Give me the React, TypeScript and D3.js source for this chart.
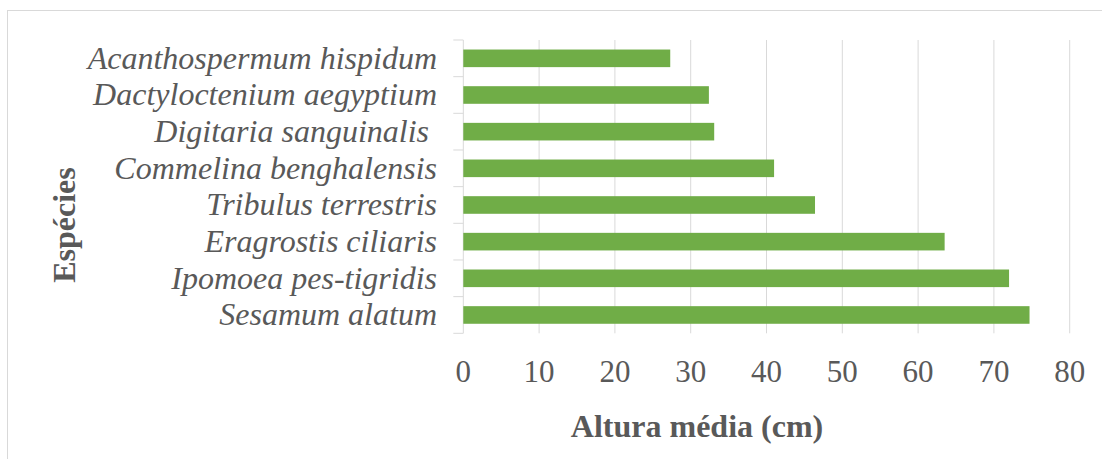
import React from "react";
import * as d3 from "d3";

// Mean plant height (cm) per weed species, listed top to bottom
const species = [
  "Acanthospermum hispidum",
  "Dactyloctenium aegyptium",
  "Digitaria sanguinalis ",
  "Commelina benghalensis",
  "Tribulus terrestris",
  "Eragrostis ciliaris",
  "Ipomoea pes-tigridis",
  "Sesamum alatum",
];
const heights = [27.3, 32.4, 33.1, 41.0, 46.4, 63.5, 72.0, 74.7];
const xTicks = [0, 10, 20, 30, 40, 50, 60, 70, 80];

const W = 1102;
const H = 459;
const plot = { left: 463.3, right: 1069.7, top: 40, bottom: 333.3 };
const FONT = "'Liberation Serif', 'Times New Roman', serif";
const TEXT = "#595959";
const GRID = "#D9D9D9";
const BAR = "#70AD47";

export default function App() {
  const x = d3.scaleLinear().domain([0, 80]).range([plot.left, plot.right]);
  const y = d3
    .scaleBand<string>()
    .domain(species)
    .range([plot.top, plot.bottom])
    .paddingInner(0.52)
    .paddingOuter(0.26);
  const step = y.step();
  const boundaries = d3.range(species.length + 1).map((i) => plot.top + i * step);

  return (
    <svg
      width={W}
      height={H}
      style={{ position: "absolute", left: 0, top: 0, background: "#fff" }}
      fontFamily={FONT}
    >
      <rect x={7.5} y={10.5} width={1120} height={480} fill="#fff" stroke={GRID} strokeWidth={1} />

      {/* vertical gridlines */}
      {xTicks.slice(1).map((t) => (
        <line key={t} x1={x(t)} x2={x(t)} y1={plot.top} y2={plot.bottom} stroke={GRID} strokeWidth={1} />
      ))}

      {/* category axis */}
      <line x1={plot.left} x2={plot.left} y1={plot.top} y2={plot.bottom} stroke={GRID} strokeWidth={1} />
      {boundaries.map((b, i) => (
        <line key={i} x1={plot.left - 10} x2={plot.left} y1={b} y2={b} stroke={GRID} strokeWidth={1} />
      ))}

      {/* bars */}
      {species.map((s, i) => (
        <rect
          key={s}
          x={x(0)}
          y={y(s)}
          width={x(heights[i]) - x(0)}
          height={y.bandwidth()}
          fill={BAR}
        />
      ))}

      {/* category labels */}
      {species.map((s) => (
        <text
          key={s}
          x={437}
          y={(y(s) as number) + y.bandwidth() / 2}
          dy="0.32em"
          textAnchor="end"
          fontSize={32}
          fontStyle="italic"
          fill={TEXT}
          style={{ whiteSpace: "pre" }}
        >
          {s}
        </text>
      ))}

      {/* value axis labels */}
      {xTicks.map((t) => (
        <text key={t} x={x(t)} y={382} textAnchor="middle" fontSize={31} fill={TEXT}>
          {t}
        </text>
      ))}

      <text x={697} y={437} textAnchor="middle" fontSize={32} fontWeight="bold" fill={TEXT}>
        Altura média (cm)
      </text>
      <text
        transform="translate(75,225) rotate(-90)"
        textAnchor="middle"
        fontSize={32}
        fontWeight="bold"
        fill={TEXT}
      >
        Espécies
      </text>
    </svg>
  );
}
